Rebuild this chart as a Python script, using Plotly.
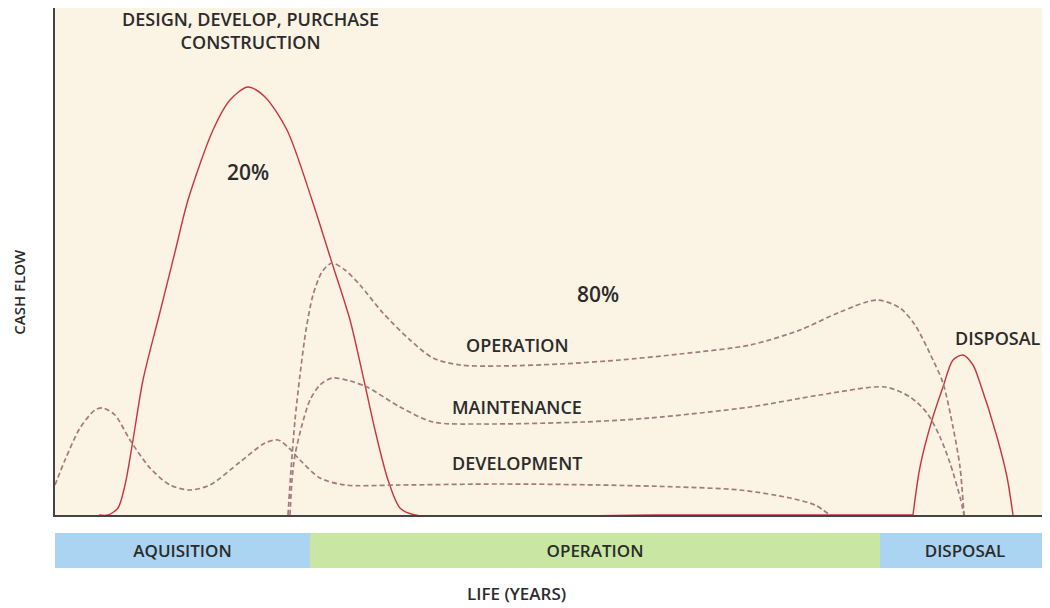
import plotly.graph_objects as go

# --- data (x: life in years, y: relative cash flow) ---
construction_x = [2.2, 2.65, 3.15, 3.5, 3.9, 4.4, 5.25, 6.0, 6.65, 7.9, 8.75, 9.65, 10.5, 11.6, 12.85,
                  13.85, 14.75, 15.5, 16.0, 16.65, 17.25, 18.0, 30.0, 42.9]
construction_y = [0, 0, 1.4, 6, 15, 27, 40.6, 52.6, 63, 77, 83, 85.6, 83.6, 77, 63,
                  50.4, 39, 26, 17, 7, 1.4, 0, 0, 0]

disposal_x = [42.9, 43.25, 43.85, 44.4, 44.9, 45.4, 45.9, 46.25, 47.1, 47.6, 47.9]
disposal_y = [0, 9.6, 19, 25.6, 31, 32, 30, 26.4, 15.6, 7.6, 0]

development_x = [0, 0.5, 1.25, 2.0, 2.4, 3.0, 3.75, 4.75, 5.75, 6.75, 7.75, 9.25, 10.5, 11.15, 11.65,
                 12.25, 13.25, 14.5, 17.25, 22.25, 27.25, 31.25, 34.25, 36.75, 38.0, 38.75]
development_y = [6, 11, 17.4, 21, 21.4, 20, 15, 9.4, 6, 5, 6, 10.6, 14.4, 15, 13.6,
                 11, 7.4, 6, 6, 6.2, 6, 5.6, 5, 3.4, 2, 0]

operation_x = [11.65, 11.8, 12.0, 12.25, 12.55, 12.9, 13.35, 13.85, 14.5, 15.25, 16.4, 17.75, 18.9,
               20.25, 22.25, 25.25, 28.25, 31.25, 34.75, 37.25, 39.25, 41.1, 42.25, 43.0, 43.9,
               44.4, 44.9, 45.25, 45.45]
operation_y = [0, 9, 19, 28, 37, 44, 48.6, 50.4, 49, 46, 40.4, 35, 31.4,
               30, 29.8, 30.2, 31, 32.2, 34, 37, 40.6, 43, 41.4, 38, 31,
               26.4, 17.6, 9.6, 0]

maintenance_x = [11.75, 11.85, 12.0, 12.35, 12.75, 13.25, 13.85, 14.75, 15.6, 17.25, 18.9, 21.4,
                 26.4, 29.75, 34.75, 38.25, 41.5, 42.75, 43.6, 44.25, 44.75, 45.25, 45.45]
maintenance_y = [0, 7, 12, 18, 23, 26, 27.4, 26.8, 25.6, 21.6, 18.6, 18.2,
                 18.6, 19.4, 21.6, 24, 25.6, 23.6, 20.4, 15.6, 10.4, 3.6, 0]

phase_names = ["AQUISITION", "OPERATION", "DISPOSAL"]
phase_start = [0, 12.75, 41.25]
phase_end = [12.75, 41.25, 49.75]

# --- style ---
SOLID = "#c9343f"
DASH = "#a27a80"
TEXT = "#2b2b2b"
FONT = "Open Sans"

fig = go.Figure()

for xs, ys in [(construction_x, construction_y), (disposal_x, disposal_y)]:
    fig.add_trace(go.Scatter(x=xs, y=ys, mode="lines",
                             line=dict(color=SOLID, width=1.4, shape="spline", smoothing=0.8),
                             hoverinfo="skip"))

for xs, ys in [(development_x, development_y), (operation_x, operation_y), (maintenance_x, maintenance_y)]:
    fig.add_trace(go.Scatter(x=xs, y=ys, mode="lines",
                             line=dict(color=DASH, width=1.7, dash="5px,3px", shape="spline", smoothing=0.8),
                             hoverinfo="skip"))

# phase strip under the chart
fig.add_trace(go.Bar(
    x=[e - s for s, e in zip(phase_start, phase_end)], base=phase_start, y=[0, 0, 0],
    orientation="h", yaxis="y2", width=1,
    marker=dict(color=["#aad4f1", "#c9e7a2", "#aad4f1"], line=dict(width=0)),
    text=phase_names, textposition="inside", insidetextanchor="middle",
    textfont=dict(family=FONT, size=17, color=TEXT, weight=600),
    hoverinfo="skip",
))

labels = [
    ("DESIGN, DEVELOP, PURCHASE<br>CONSTRUCTION", 9.75, 97.0, 18),
    ("20%", 9.65, 68.6, 21),
    ("80%", 27.15, 44.2, 21),
    ("OPERATION", 23.1, 34, 18),
    ("MAINTENANCE", 23.1, 21.6, 18),
    ("DEVELOPMENT", 23.1, 10.4, 18),
    ("DISPOSAL", 47.15, 35.4, 18),
]
for txt, x, y, size in labels:
    fig.add_annotation(x=x, y=y, text=txt, showarrow=False,
                       font=dict(family=FONT, size=size, color=TEXT, weight=600))

# axis titles as free text
fig.add_annotation(xref="paper", yref="paper", x=-0.0362, y=0.527, xanchor="center", yanchor="middle",
                   text="CASH FLOW", textangle=-90, showarrow=False,
                   font=dict(family=FONT, size=15, color=TEXT, weight=600))
fig.add_annotation(xref="paper", yref="paper", x=0.464, y=0.024, xanchor="center", yanchor="middle",
                   text="LIFE (YEARS)", showarrow=False,
                   font=dict(family=FONT, size=17, color=TEXT, weight=600))

fig.update_layout(
    width=1042, height=600,
    margin=dict(l=47, r=0, t=0, b=0),
    paper_bgcolor="white",
    plot_bgcolor="#fbf3e3",
    showlegend=False,
    bargap=0,
    xaxis=dict(range=[0, 49.75], showgrid=False, zeroline=False, showticklabels=False, ticks="",
               showline=True, linecolor="#444", linewidth=1.5, anchor="y"),
    yaxis=dict(range=[0, 101.4], domain=[0.155, 1], showgrid=False, zeroline=False, showticklabels=False,
               ticks="", showline=True, linecolor="#444", linewidth=1.5),
    yaxis2=dict(range=[-0.5, 0.5], domain=[0.0667, 0.125], showgrid=False, zeroline=False,
                showticklabels=False, ticks="", anchor="x"),
)

fig.write_html("out.html")
